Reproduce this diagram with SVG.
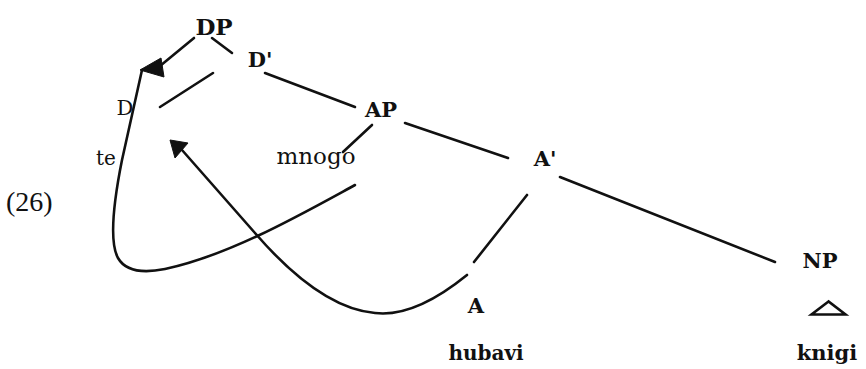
<svg xmlns="http://www.w3.org/2000/svg" width="866" height="369" viewBox="0 0 866 369">
<style>
.lbl{font-family:"DejaVu Serif","Liberation Serif",serif;font-size:21px;font-weight:bold;fill:#111;text-anchor:middle}
.wd{font-family:"DejaVu Serif","Liberation Serif",serif;font-size:20px;fill:#111;text-anchor:middle}
.num{font-family:"Liberation Serif",serif;font-size:28px;fill:#111}
.ln{stroke:#111;stroke-width:2.6;fill:none;stroke-linecap:round}
.ah{fill:#111;stroke:#111;stroke-width:1;stroke-linejoin:round}
</style>
<rect width="866" height="369" fill="#fff"/>
<text class="num" x="6" y="211">(26)</text>
<g id="DP"><text class="lbl" x="214" y="35" style="font-size:23px">DP</text></g>
<g id="Dbar"><text class="lbl" x="260" y="67">D'</text></g>
<g id="D"><text class="lbl" x="125" y="115" style="font-weight:normal">D</text></g>
<g id="te"><text class="wd" x="106" y="165">te</text></g>
<g id="AP"><text class="lbl" x="381" y="117">AP</text></g>
<g id="mnogo"><text class="wd" x="316" y="164" style="font-size:23px">mnogo</text></g>
<g id="Abar"><text class="lbl" x="545" y="166">A'</text></g>
<g id="A"><text class="lbl" x="476" y="313">A</text><text class="wd" x="486" y="360" style="font-weight:bold">hubavi</text></g>
<g id="NP"><text class="lbl" x="820" y="268">NP</text><polygon class="ln" points="828.5,301.5 811.5,314.5 845.5,314.5"/><text class="wd" x="827" y="360" style="font-weight:bold;font-size:21px">knigi</text></g>
<g id="connectors">
<line class="ln" x1="212" y1="38" x2="232" y2="53"/>
<line class="ln" x1="213" y1="73" x2="160" y2="107"/>
<line class="ln" x1="265" y1="73" x2="355" y2="107"/>
<line class="ln" x1="372" y1="125" x2="343" y2="152"/>
<line class="ln" x1="405" y1="123" x2="508" y2="158"/>
<line class="ln" x1="560" y1="177" x2="775" y2="262"/>
<line class="ln" x1="527" y1="195" x2="474" y2="262"/>
<line class="ln" x1="194" y1="38" x2="160" y2="66"/>
<polygon class="ah" points="140,70 161,58 164,77"/>
<path class="ln" d="M142 70 L122 160 C115 195 108 240 118 258 C126 272 145 273 165 269 C230 255 300 215 355 185"/>
<path class="ln" d="M467 275 C430 305 400 316 375 313 C340 310 300 285 255 233 L182 150"/>
<polygon class="ah" points="170,140 188,143 175,158"/>
</g>
</svg>
